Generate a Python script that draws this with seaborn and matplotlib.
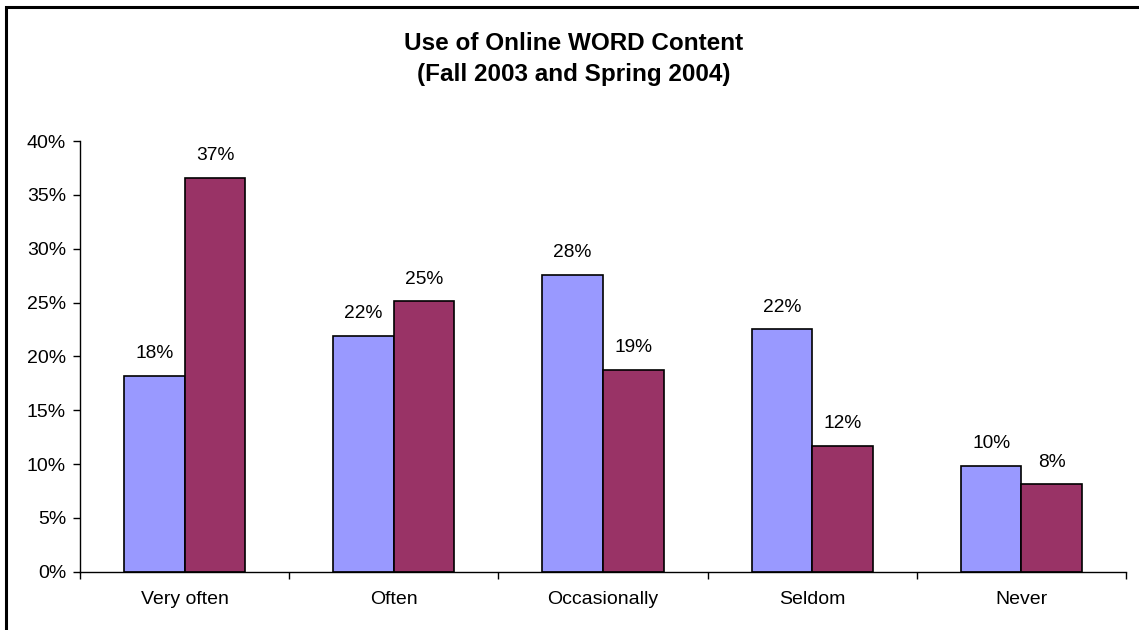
import matplotlib
matplotlib.use("Agg")
import matplotlib.pyplot as plt
from matplotlib.patches import Rectangle
from matplotlib.ticker import PercentFormatter, FixedLocator
import pandas as pd
import seaborn as sns

categories = ["Very often", "Often", "Occasionally", "Seldom", "Never"]
fall_2003 = [18.2, 21.9, 27.6, 22.5, 9.8]
spring_2004 = [36.6, 25.1, 18.7, 11.7, 8.1]
series_names = ["Fall 2003", "Spring 2004"]
series_colors = ["#9999FF", "#993366"]
y_ticks = [0, 5, 10, 15, 20, 25, 30, 35, 40]

df = pd.DataFrame({
    "category": categories * 2,
    "value": fall_2003 + spring_2004,
    "term": [series_names[0]] * len(categories) + [series_names[1]] * len(categories),
})

sns.set_theme(style="white")
plt.rcParams["font.family"] = ["Liberation Sans", "DejaVu Sans"]

fig = plt.figure(figsize=(11.39, 6.30), dpi=100)
W, H = 1139, 630
ax = fig.add_axes([80 / W, (H - 571.7) / H, (1126 - 80) / W, (571.7 - 141) / H])

sns.barplot(data=df, x="category", y="value", hue="term", order=categories,
            hue_order=series_names, palette=series_colors, width=0.58,
            edgecolor="black", linewidth=1.2, saturation=1, legend=False, ax=ax)

for container in ax.containers:
    labels = [f"{v:.0f}%" for v in container.datavalues]
    ax.bar_label(container, labels=labels, padding=10, fontsize=13.8, color="black")

ax.set_ylim(0, 40)
ax.set_xlim(-0.5, len(categories) - 0.5)
ax.yaxis.set_major_locator(FixedLocator(y_ticks))
ax.yaxis.set_major_formatter(PercentFormatter(decimals=0))
ax.set_xlabel("")
ax.set_ylabel("")

ax.xaxis.set_minor_locator(FixedLocator([i - 0.5 for i in range(len(categories) + 1)]))
ax.tick_params(axis="x", which="major", length=0, pad=14, labelsize=14, colors="black")
ax.tick_params(axis="x", which="minor", length=5, width=1, color="black", direction="out", bottom=True)
ax.tick_params(axis="y", length=5, width=1, color="black", direction="out", left=True,
               labelsize=14, pad=5, labelcolor="black")

for side in ["top", "right"]:
    ax.spines[side].set_visible(False)
for side in ["left", "bottom"]:
    ax.spines[side].set_color("black")
    ax.spines[side].set_linewidth(1)

fig.text(574 / W, 1 - 43 / H, "Use of Online WORD Content", ha="center", va="center",
         fontsize=17.5, fontweight="bold", color="black")
fig.text(574 / W, 1 - 74 / H, "(Fall 2003 and Spring 2004)", ha="center", va="center",
         fontsize=17.5, fontweight="bold", color="black")

# chart-area frame
fig.patches.append(Rectangle((6 / W, -0.05), 1.2, 1 - 7 / H + 0.05, transform=fig.transFigure,
                             fill=False, edgecolor="black", linewidth=2.2, zorder=10))

fig.savefig("out.png", dpi=100, facecolor="white")
